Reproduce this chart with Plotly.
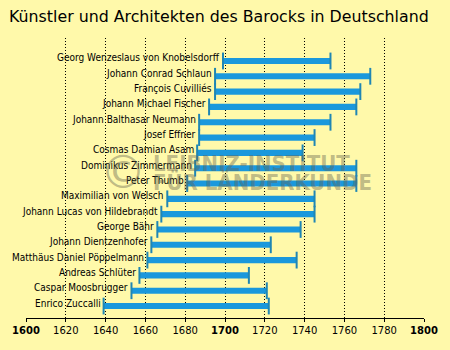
import plotly.graph_objects as go

# Data (top to bottom as displayed)
names = [
    "Georg Wenzeslaus von Knobelsdorff",
    "Johann Conrad Schlaun",
    "François Cuvilliés",
    "Johann Michael Fischer",
    "Johann Balthasar Neumann",
    "Josef Effner",
    "Cosmas Damian Asam",
    "Dominikus Zimmermann",
    "Peter Thumb",
    "Maximilian von Welsch",
    "Johann Lucas von Hildebrandt",
    "George Bähr",
    "Johann Dientzenhofer",
    "Matthäus Daniel Pöppelmann",
    "Andreas Schlüter",
    "Caspar Moosbrugger",
    "Enrico Zuccalli",
]
born = [1699, 1695, 1695, 1692, 1687, 1687, 1686, 1685, 1681, 1671, 1668, 1666, 1663, 1661, 1657, 1653, 1639]
died = [1753, 1773, 1768, 1766, 1753, 1745, 1739, 1766, 1766, 1745, 1745, 1738, 1723, 1736, 1712, 1721, 1722]
tick_years = list(range(1600, 1801, 20))
tick_labels = [("<b>%d</b>" % y) if y in (1600, 1700, 1800) else str(y) for y in tick_years]

title = "Künstler und Architekten des Barocks in Deutschland"

BG = "#fff9aa"
BAR = "#1a98dc"
CAP = "#1f86b4"

durations = [d - b for b, d in zip(born, died)]

fig = go.Figure()
fig.add_trace(go.Bar(
    y=names, x=durations, base=born, orientation="h",
    marker=dict(color=BAR, line=dict(width=0)), width=0.4,
    hoverinfo="skip", showlegend=False,
))
fig.add_trace(go.Scatter(
    x=born + died, y=names + names, mode="markers",
    marker=dict(symbol="line-ns", size=12, line=dict(width=2, color=CAP)),
    hoverinfo="skip", showlegend=False,
))

annotations = []
for n, b in zip(names, born):
    annotations.append(dict(
        x=b, y=n, xref="x", yref="y", text=n, showarrow=False,
        xanchor="right", yanchor="middle", xshift=-1, yshift=3,
        font=dict(family="DejaVu Sans Condensed", size=10, color="black"),
    ))

# watermark
L, R, T, B = 21, 424, 38, 318
def px(x): return (x - L) / (R - L)
def py(y): return (B - y) / (B - T)
wm = "rgba(100,100,80,0.42)"
annotations.append(dict(x=px(119), y=py(172), xref="paper", yref="paper", text="©",
                        showarrow=False, xanchor="center", yanchor="middle",
                        font=dict(family="DejaVu Sans", size=46, color=wm)))
annotations.append(dict(x=px(148), y=py(163), xref="paper", yref="paper", text="<b>LEIBNIZ-INSTITUT</b>",
                        showarrow=False, xanchor="left", yanchor="middle",
                        font=dict(family="DejaVu Sans Condensed", size=22, color=wm)))
annotations.append(dict(x=px(148), y=py(183), xref="paper", yref="paper", text="<b>FÜR LÄNDERKUNDE</b>",
                        showarrow=False, xanchor="left", yanchor="middle",
                        font=dict(family="DejaVu Sans Condensed", size=22, color=wm)))

fig.update_layout(
    width=450, height=350,
    margin=dict(l=L, r=450 - R, t=T, b=350 - B),
    paper_bgcolor=BG, plot_bgcolor=BG,
    title=dict(text=title, x=9 / 450, xref="container", xanchor="left",
               y=1 - 16 / 350, yref="container", yanchor="middle",
               font=dict(family="DejaVu Sans", size=15.8, color="black")),
    annotations=annotations,
    showlegend=False,
)
fig.update_xaxes(
    range=[1600, 1800], tickvals=tick_years, ticktext=tick_labels,
    showgrid=True, gridcolor="black", griddash="1px,2px", gridwidth=1,
    showline=True, linecolor="black", linewidth=1,
    ticks="outside", ticklen=3, tickcolor="black",
    tickfont=dict(family="DejaVu Sans", size=10, color="black"),
    zeroline=False, fixedrange=True,
)
fig.update_yaxes(
    categoryorder="array", categoryarray=list(reversed(names)),
    range=[-0.78, 17.5], showticklabels=False, showgrid=False,
    zeroline=False, showline=False, ticks="",
)

fig.write_html("out.html")
